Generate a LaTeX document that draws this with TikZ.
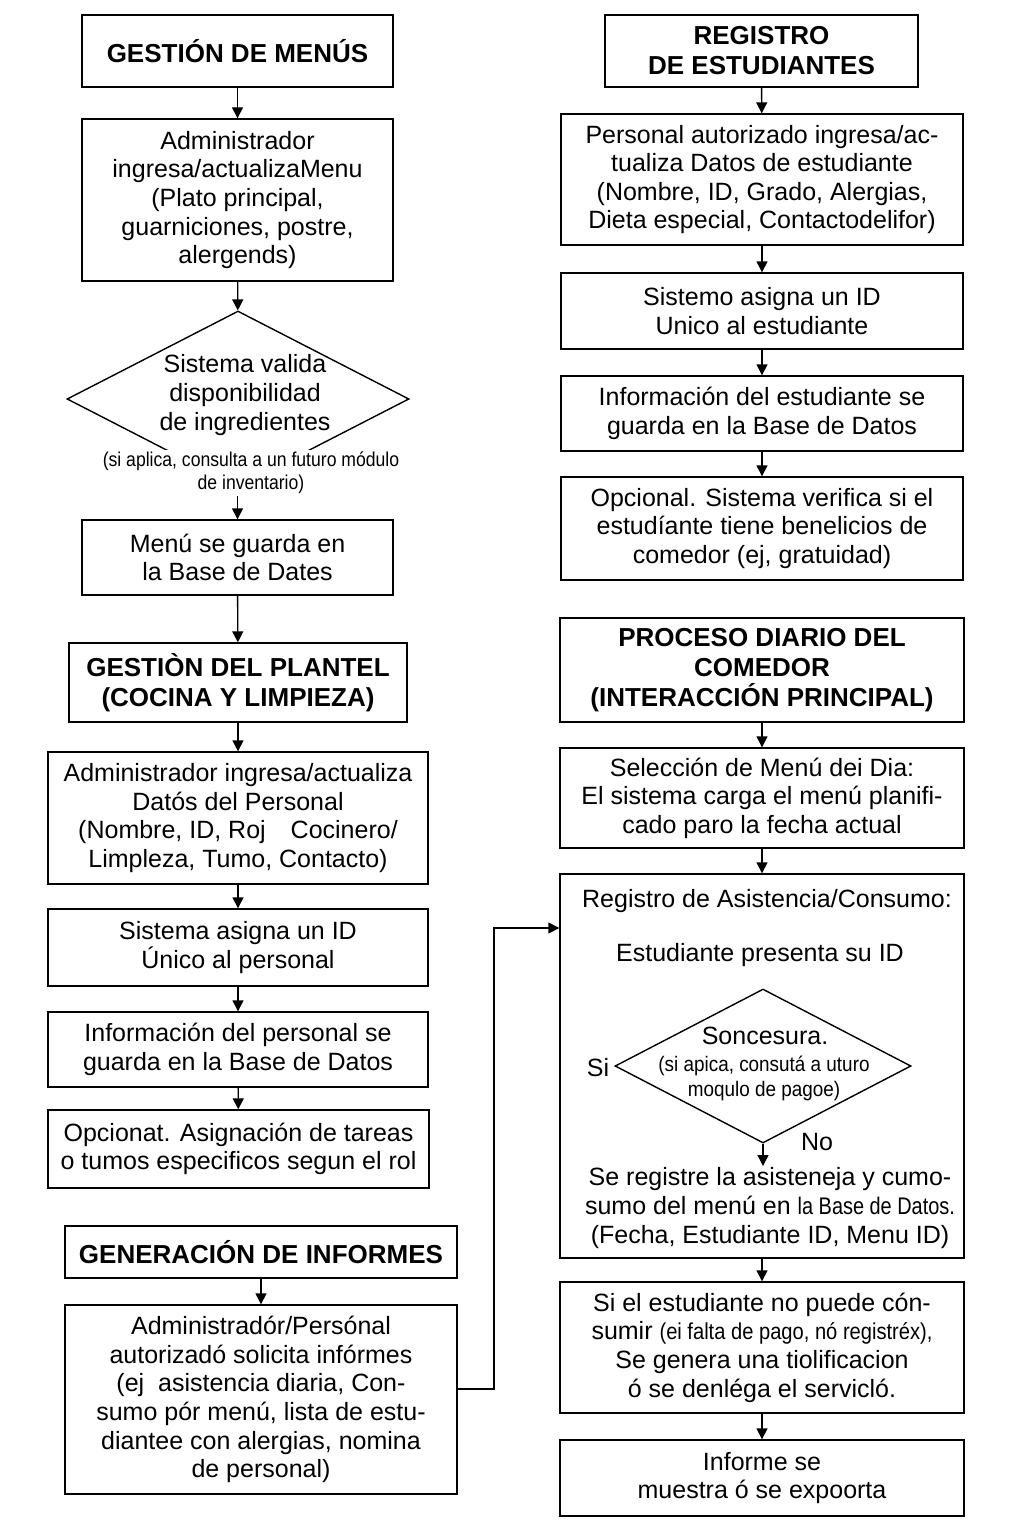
\documentclass[tikz,border=0pt]{standalone}
\usepackage{fontspec}
\setmainfont{Liberation Sans}
\usetikzlibrary{arrows.meta,shapes.geometric}
\newcommand\mybody{\fontsize{25}{28.6}\selectfont}
\newcommand\mytitle{\fontsize{26}{30}\selectfont\bfseries}
\newcommand\mycond[2]{\scalebox{#1}[1]{#2}}
\begin{document}
\begin{tikzpicture}[x=1pt,y=-1pt,
  box/.style={draw, line width=1.4pt, inner sep=0pt, align=center, font=\mybody},
  ttl/.style={box, font=\mytitle},
  txt/.style={inner sep=0pt, align=center, font=\mybody},
  arr/.style={line width=1.4pt, -{Triangle[width=11pt,length=11pt]}}]
\useasboundingbox (0,0) rectangle (1024,1536);
\fill[white] (0,0) rectangle (1024,1536);

% ---------- left column ----------
\node[ttl, minimum width=311pt, minimum height=72pt] (m1) at (237.5,51) {GESTIÓN DE MENÚS};
\node[box, minimum width=311pt, minimum height=162pt] (m2) at (237.5,200)
  {Administrador\\ingresa/actualizaMenu\\(Plato principal,\\guarniciones, postre,\\alergends)};
\node[draw, line width=1.4pt, diamond, inner sep=0pt, minimum width=342pt, minimum height=176pt] (d1) at (238,399) {};
\node[txt] (d1t) at (245,395) {Sistema valida\\disponibilidad\\de ingredientes};
\node[fill=white, inner sep=2pt, align=center, font=\fontsize{20}{23}\selectfont] (n1) at (251,473)
  {\mycond{0.88}{(si aplica, consulta a un futuro módulo}\\\mycond{0.88}{de inventario)}};
\node[box, minimum width=311pt, minimum height=75pt] (m4) at (237.5,557.5) {Menú se guarda en\\la Base de Dates};
\node[ttl, minimum width=338pt, minimum height=79pt] (m5) at (238,682.5) {GESTIÒN DEL PLANTEL\\(COCINA Y LIMPIEZA)};
\node[box, minimum width=380pt, minimum height=132pt] (m6) at (238,818)
  {Administrador ingresa/actualiza\\Datós del Personal\\(Nombre, ID, Roj\quad Cocinero/\\Limpleza, Tumo, Contacto)};
\node[box, minimum width=380pt, minimum height=77pt] (m7) at (238,947.5) {Sistema asigna un ID\\Único al personal};
\node[box, minimum width=380pt, minimum height=75pt] (m8) at (238,1049.5) {Información del personal se\\guarda en la Base de Datos};
\node[box, minimum width=381pt, minimum height=78pt] (m9) at (238.5,1149) {Opcionat. Asignación de tareas\\o tumos especificos segun el rol};
\node[ttl, minimum width=392pt, minimum height=52pt] (m10) at (261,1252) {GENERACIÓN DE INFORMES};
\node[box, minimum width=392pt, minimum height=189pt] (m11) at (261,1399.5)
  {Administradór/Persónal\\autorizadó solicita infórmes\\(ej\ \ asistencia diaria, Con-\\sumo pór menú, lista de estu-\\diantee con alergias, nomina\\de personal)};

\draw[arr] (m1) -- (m2);
\draw[arr] (m2) -- (d1);
\draw[arr] (m4.north |- n1.south) -- (m4.north);
\draw[arr] (m4) -- (m5);
\draw[arr] (m5) -- (m6);
\draw[arr] (m6) -- (m7);
\draw[arr] (m7) -- (m8);
\draw[arr] (m8) -- (m9);
\draw[arr] (m10) -- (m11);

% ---------- right column ----------
\node[ttl, minimum width=313pt, minimum height=72pt] (r1) at (761.5,51) {REGISTRO\\DE ESTUDIANTES};
\node[box, minimum width=402pt, minimum height=131pt] (r2) at (762,179.5)
  {Personal autorizado ingresa/ac-\\tualiza Datos de estudiante\\(Nombre, ID, Grado, Alergias,\\Dieta especial, Contactodelifor)};
\node[box, minimum width=402pt, minimum height=76pt] (r3) at (762,311) {Sistemo asigna un ID\\Unico al estudiante};
\node[box, minimum width=402pt, minimum height=75pt] (r4) at (762,413.5) {Información del estudiante se\\guarda en la Base de Datos};
\node[box, minimum width=402pt, minimum height=103pt] (r5) at (762,528.5)
  {Opcional. Sistema verifica si el\\estudíante tiene benelicios de\\comedor (ej, gratuidad)};
\node[ttl, minimum width=404pt, minimum height=104pt] (r6) at (762,670) {PROCESO DIARIO DEL\\COMEDOR\\(INTERACCIÓN PRINCIPAL)};
\node[box, minimum width=404pt, minimum height=100pt] (r7) at (762,798)
  {Selección de Menú dei Dia:\\El sistema carga el menú planifi-\\cado paro la fecha actual};
\node[box, minimum width=404pt, minimum height=384pt] (r8) at (762,1066) {};
\node[txt] (r8a) at (767,901) {Registro de Asistencia/Consumo:};
\node[txt] (r8b) at (760,955) {Estudiante presenta su ID};
\node[draw, line width=1.4pt, diamond, inner sep=0pt, minimum width=296pt, minimum height=154pt] (d2) at (763,1066) {};
\node[txt] (d2a) at (765,1036) {Soncesura.};
\node[txt, font=\fontsize{21}{25}\selectfont] (d2b) at (764,1078)
  {\mycond{0.9}{(si apica, consutá a uturo}\\\mycond{0.9}{moqulo de pagoe)}};
\node[txt] (si) at (598,1068) {Si};
\node[txt] (no) at (817,1142) {No};
\coordinate (d2e) at (763,1166);
\node[txt] (r8c) at (770,1208)
  {Se registre la asisteneja y cumo-\\sumo del menú en \mycond{0.83}{\fontsize{24}{28.6}\selectfont la Base de Datos.}\\(Fecha, Estudiante ID, Menu ID)};
\node[box, minimum width=404pt, minimum height=131pt] (r9) at (762,1347.5)
  {Si el estudiante no puede cón-\\sumir \mycond{0.875}{\fontsize{23}{28.6}\selectfont (ei falta de pago, nó registréx),}\\Se genera una tiolificacion\\ó se denléga el servicló.};
\node[box, minimum width=404pt, minimum height=76pt] (r10) at (762,1478) {Informe se\\muestra ó se expoorta};

\draw[arr] (r1) -- (r2);
\draw[arr] (r2) -- (r3);
\draw[arr] (r3) -- (r4);
\draw[arr] (r4) -- (r5);
\draw[arr] (r6) -- (r7);
\draw[arr] (r7) -- (r8);
\draw[arr] (d2.south) -- (d2e);
\draw[arr] (r8) -- (r9);
\draw[arr] (r9) -- (r10);

% feedback connector
\coordinate (fb) at (494,928);
\draw[arr] ([yshift=10.5pt]m11.east) -| (fb) -- (fb -| r8.west);
\end{tikzpicture}
\end{document}
